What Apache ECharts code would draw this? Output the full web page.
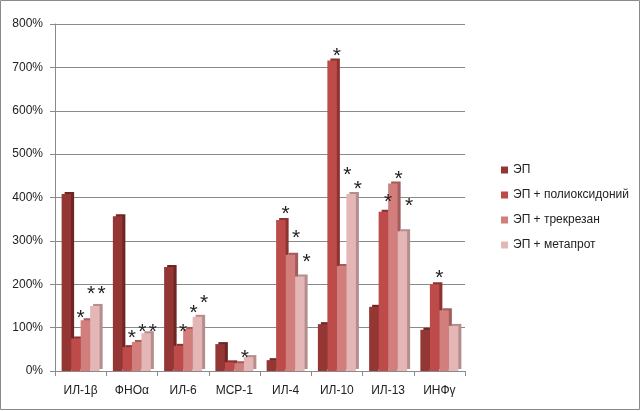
<!DOCTYPE html>
<html>
<head>
<meta charset="utf-8">
<script src="https://cdn.jsdelivr.net/npm/echarts@6/dist/echarts.min.js"></script>
<style>
html,body{margin:0;padding:0;background:#fff;}
#c{width:641px;height:411px;}
</style>
</head>
<body>
<div id="c"></div>
<script>
const categories = ['ИЛ-1β', 'ФНОα', 'ИЛ-6', 'MCP-1', 'ИЛ-4', 'ИЛ-10', 'ИЛ-13', 'ИНФγ'];
const seriesNames = ['ЭП', 'ЭП + полиоксидоний', 'ЭП + трекрезан', 'ЭП + метапрот'];
const valuesEP = [408, 357, 240, 62, 25, 108, 148, 95];
const valuesPoly = [75, 55, 58, 20, 348, 716, 367, 200];
const valuesTrek = [117, 67, 97, 18, 268, 242, 432, 140];
const valuesMeta = [150, 87, 125, 32, 218, 408, 322, 104];
// height (in %) at which each significance asterisk is drawn; null = no asterisk
const starsEP = [null, null, null, null, null, null, null, null];
const starsPoly = [134, 88, 101, null, 373, 737, 401, 226];
const starsTrek = [189, 101, 145, 41, 318, 463, 454, null];
const starsMeta = [189, 101, 168, null, 263, 431, 392, null];
const yTicks = [0, 100, 200, 300, 400, 500, 600, 700, 800];

const colors = ['#943634', '#BC4B49', '#D27E7D', '#E4B7B6'];
const sideColors = ['#6e2624', '#8c3332', '#a25c5b', '#b38e8d'];
const allValues = [valuesEP, valuesPoly, valuesTrek, valuesMeta];
const allStars = [starsEP, starsPoly, starsTrek, starsMeta];
const BAR_W = 9.5;

const chart = echarts.init(document.getElementById('c'), null, {renderer: 'canvas'});
const font = "'Liberation Sans', Arial, sans-serif";

const series = seriesNames.map((name, i) => ({
  name: name,
  type: 'bar',
  barWidth: BAR_W,
  barGap: '0%',
  itemStyle: {
    color: colors[i],
    shadowColor: sideColors[i],
    shadowOffsetX: 3,
    shadowOffsetY: -2,
    shadowBlur: 0
  },
  data: allValues[i]
}));

const starData = [];
allStars.forEach((arr, s) => {
  arr.forEach((lvl, c) => {
    if (lvl != null) starData.push([c, lvl, s]);
  });
});

series.push({
  type: 'custom',
  name: 'stars',
  silent: true,
  z: 5,
  renderItem: function (params, api) {
    const c = api.value(0);
    const lvl = api.value(1);
    const s = api.value(2);
    const pt = api.coord([c, lvl]);
    const x = pt[0] + (s - 1) * 10.5;
    return {
      type: 'text',
      style: {
        x: x,
        y: pt[1] + 5,
        text: '*',
        fill: '#222',
        font: "21px 'Liberation Sans', Arial, sans-serif",
        align: 'center',
        verticalAlign: 'middle'
      }
    };
  },
  data: starData
});

chart.setOption({
  animation: false,
  backgroundColor: '#fff',
  color: colors,
  graphic: [{
    type: 'rect',
    shape: {x: 0.5, y: 0.5, width: 639, height: 409},
    style: {fill: 'none', stroke: '#8a8a8a', lineWidth: 1},
    silent: true
  }],
  grid: {left: 55, right: 176, top: 24, bottom: 40, containLabel: false},
  legend: {
    orient: 'vertical',
    left: 496,
    top: 158,
    itemWidth: 7,
    itemHeight: 7,
    itemGap: 11,
    icon: 'rect',
    textStyle: {fontSize: 12, color: '#222', fontFamily: font, lineHeight: 14},
    data: seriesNames
  },
  xAxis: {
    type: 'category',
    data: categories,
    axisLine: {show: true, lineStyle: {color: '#8a8a8a'}},
    axisTick: {show: true, length: 5, lineStyle: {color: '#8a8a8a'}},
    axisLabel: {fontSize: 12, color: '#222', fontFamily: font, margin: 14},
    splitLine: {show: false}
  },
  yAxis: {
    type: 'value',
    min: yTicks[0],
    max: yTicks[yTicks.length - 1],
    interval: 100,
    axisLine: {show: true, lineStyle: {color: '#8a8a8a'}},
    axisTick: {show: true, length: 5, lineStyle: {color: '#8a8a8a'}},
    axisLabel: {fontSize: 12, color: '#222', fontFamily: font, margin: 12, formatter: '{value}%'},
    splitLine: {show: true, lineStyle: {color: '#8a8a8a', width: 1}}
  },
  series: series
});
</script>
</body>
</html>
